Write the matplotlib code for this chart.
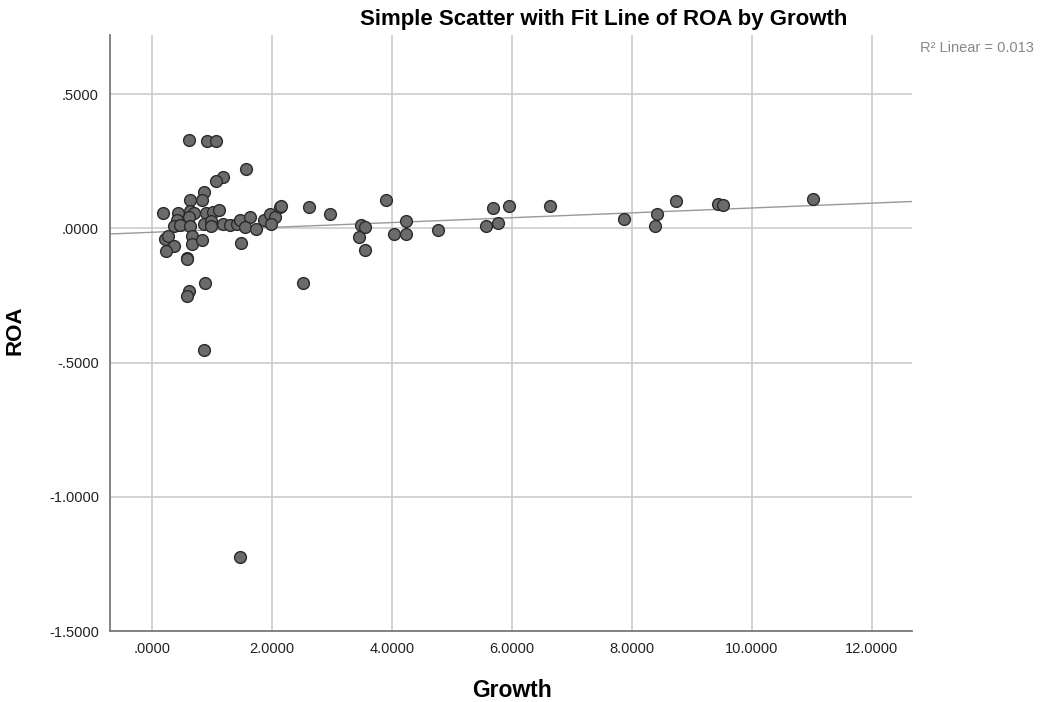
import numpy as np
import matplotlib.pyplot as plt

plt.rcParams['font.family'] = ['Liberation Sans', 'DejaVu Sans']

# Growth / ROA values
growth = [0.62, 0.91, 1.07, 1.57, 1.19, 1.07, 0.87, 0.83, 0.63, 0.19,
          0.43, 0.63, 0.70, 0.90, 1.02, 1.12, 0.61, 0.42, 0.36, 0.47,
          0.63, 0.86, 0.99, 0.98, 1.19, 1.30, 1.41, 1.47, 1.63, 1.55,
          1.73, 1.87, 1.97, 2.05, 2.13, 1.99, 0.22, 0.26, 0.36, 0.23,
          0.66, 0.67, 0.83, 1.48, 0.58, 0.58, 0.89, 0.61, 0.58, 0.86,
          1.47, 2.15, 2.61, 2.97, 3.90, 3.49, 3.55, 3.45, 3.55, 4.03,
          4.23, 4.24, 4.77, 2.51, 5.69, 5.95, 5.56, 5.77, 6.63, 7.86,
          8.41, 8.38, 8.73, 9.44, 9.52, 11.02]
roa = [0.330, 0.326, 0.326, 0.222, 0.191, 0.178, 0.135, 0.104, 0.104, 0.056,
       0.058, 0.065, 0.057, 0.057, 0.060, 0.070, 0.042, 0.030, 0.007, 0.011,
       0.007, 0.015, 0.027, 0.007, 0.015, 0.011, 0.017, 0.032, 0.042, 0.005,
       -0.003, 0.032, 0.055, 0.042, 0.080, 0.015, -0.038, -0.030, -0.067, -0.086,
       -0.030, -0.057, -0.045, -0.053, -0.109, -0.116, -0.205, -0.234, -0.252, -0.455,
       -1.224, 0.082, 0.080, 0.055, 0.104, 0.011, 0.005, -0.032, -0.082, -0.020,
       0.027, -0.022, -0.007, -0.203, 0.077, 0.082, 0.009, 0.021, 0.082, 0.036,
       0.055, 0.007, 0.102, 0.090, 0.087, 0.111]

x_ticks = [0, 2, 4, 6, 8, 10, 12]
y_ticks = [-1.5, -1.0, -0.5, 0.0, 0.5]

fig = plt.figure(figsize=(10.44, 7.02), dpi=100)
ax = fig.add_axes([0.1054, 0.1011, 0.7682, 0.849])

ax.set_xlim(-0.7, 12.67)
ax.set_ylim(-1.5, 0.72)
ax.set_xticks(x_ticks)
ax.set_yticks(y_ticks)
ax.set_xticklabels([('%.4f' % v).lstrip('0') if v == 0 else '%.4f' % v for v in x_ticks])
ax.set_yticklabels([('%.4f' % v).replace('0.', '.', 1) for v in y_ticks])
ax.tick_params(length=0, labelsize=10.5, colors='#222222')
ax.tick_params(axis='x', pad=8)
ax.tick_params(axis='y', pad=8)
ax.grid(True, color='#c8c8c8', linewidth=1.1)
ax.set_axisbelow(True)
for s in ['top', 'right']:
    ax.spines[s].set_visible(False)
for s in ['left', 'bottom']:
    ax.spines[s].set_color('#7a7a7a')
    ax.spines[s].set_linewidth(1.3)

# fit line
b, a = np.polyfit(growth, roa, 1)
xs = np.array([-0.7, 12.67])
ax.plot(xs, a + b * xs, color='#999999', linewidth=1.0, zorder=2)

ax.scatter(growth, roa, s=72, facecolor='#6b6b6b', edgecolor='#2a2a2a',
           linewidth=1.0, zorder=3)

fig.text(0.578, 0.972, 'Simple Scatter with Fit Line of ROA by Growth',
         ha='center', va='center', fontsize=16, fontweight='bold')
fig.text(0.49, 0.017, 'Growth', ha='center', va='center', fontsize=16.5,
         fontweight='bold')
fig.text(0.014, 0.53, 'ROA', ha='center', va='center', rotation=90,
         fontsize=16, fontweight='bold')
fig.text(0.881, 0.932, 'R\u00b2 Linear = 0.013', ha='left', va='center',
         fontsize=10.5, color='#888888')

fig.savefig('out.png', dpi=100)
